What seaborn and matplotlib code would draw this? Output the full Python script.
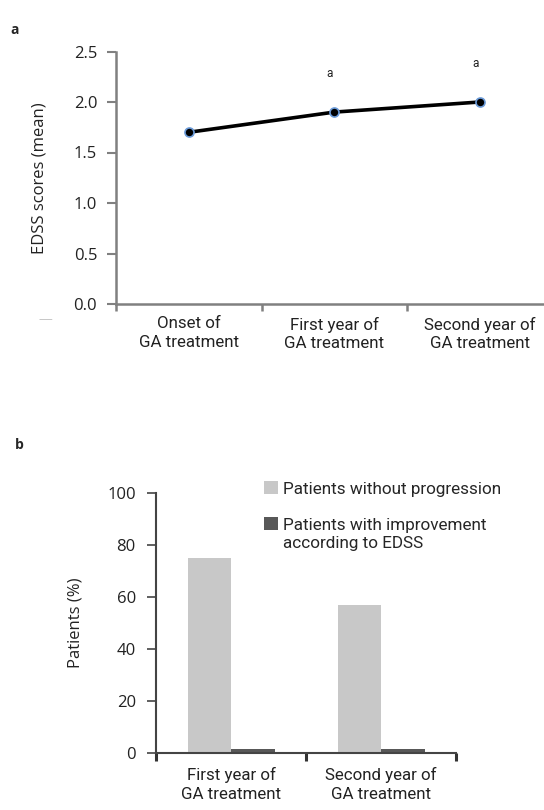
import matplotlib
matplotlib.use('Agg')
import matplotlib.pyplot as plt
import seaborn as sns
import pandas as pd

# --- Data ---
TIMEPOINTS = ['Onset of\nGA treatment', 'First year of\nGA treatment', 'Second year of\nGA treatment']
EDSS_MEAN = [1.7, 1.9, 2.0]
SIGNIF = ['', 'a', 'a']

YEARS = ['First year of\nGA treatment', 'Second year of\nGA treatment']
SERIES = ['Patients without progression', 'Patients with improvement\naccording to EDSS']
NO_PROGRESSION = [75, 57]
IMPROVEMENT = [1.5, 1.5]

COLORS = ['#c8c8c8', '#585858']
TXT = '#222222'
COND = ['Roboto', 'DejaVu Sans']
W, H = 544, 810

sns.set_theme(style='white')
plt.rcParams['font.family'] = ['Open Sans', 'DejaVu Sans']

fig = plt.figure(figsize=(W / 100, H / 100), dpi=100)

# --- Panel a: line plot ---
ax1 = fig.add_axes([116 / W, 1 - 304 / H, 436.5 / W, 252.5 / H])
df_a = pd.DataFrame({'Time': TIMEPOINTS, 'EDSS': EDSS_MEAN})
sns.lineplot(data=df_a, x='Time', y='EDSS', ax=ax1, color='black', linewidth=2.6,
             marker='o', markersize=6.5, markerfacecolor='black',
             markeredgecolor='#6a9ad8', markeredgewidth=1.2, sort=False)
for i, (v, s) in enumerate(zip(EDSS_MEAN, SIGNIF)):
    if s:
        ax1.text(i - 0.03, v + 0.38, s, ha='center', va='center', fontsize=8.5, color=TXT,
                 family=COND)
ax1.set_xlim(-0.5, 2.5)
ax1.set_ylim(0, 2.5)
ax1.set_yticks([0, 0.5, 1.0, 1.5, 2.0, 2.5])
ax1.set_yticklabels(['0.0', '0.5', '1.0', '1.5', '2.0', '2.5'])
ax1.set_xticks([-0.5, 0.5, 1.5])
ax1.set_xticklabels([])
ax1.set_xticks(range(len(TIMEPOINTS)), minor=True)
ax1.set_xticklabels(TIMEPOINTS, minor=True, fontsize=12.2, color=TXT, family=COND,
                    linespacing=1.3)
ax1.tick_params(axis='x', which='minor', bottom=False, length=0, pad=9)
ax1.tick_params(axis='x', which='major', bottom=True, length=5, width=1.8, color='#808080',
                direction='out')
ax1.tick_params(axis='y', left=True, length=6.5, width=1.5, color='#808080', direction='out',
                labelsize=12, labelcolor=TXT, pad=7)
ax1.set_xlabel('')
ax1.set_ylabel('EDSS scores (mean)', fontsize=12, color=TXT)
ax1.yaxis.set_label_coords((48 - 116) / 436.5, 0.5)
for side in ['top', 'right']:
    ax1.spines[side].set_visible(False)
for side in ['left', 'bottom']:
    ax1.spines[side].set_color('#808080')
    ax1.spines[side].set_linewidth(1.8)
fig.text(10 / W, 1 - 30 / H, 'a', fontsize=10, fontweight='bold', va='center')
fig.text(45 / W, 1 - 320 / H, '—', fontsize=10, color='#c8c8c8', ha='center', va='center')

# --- Panel b: grouped bars ---
ax2 = fig.add_axes([156 / W, 1 - 753 / H, 300 / W, 260 / H])
df_b = pd.DataFrame({
    'Year': YEARS * 2,
    'Series': [SERIES[0]] * len(YEARS) + [SERIES[1]] * len(YEARS),
    'Percent': NO_PROGRESSION + IMPROVEMENT,
})
sns.barplot(data=df_b, x='Year', y='Percent', hue='Series', palette=COLORS,
            width=0.58, gap=0, ax=ax2, legend=False, saturation=1, linewidth=0)
ax2.set_xlim(-0.5, 1.5)
ax2.set_ylim(0, 100)
ax2.set_yticks([0, 20, 40, 60, 80, 100])
ax2.set_xticks([-0.5, 0.5, 1.5])
ax2.set_xticklabels([])
ax2.set_xticks(range(len(YEARS)), minor=True)
ax2.set_xticklabels(YEARS, minor=True, fontsize=12.2, color=TXT, family=COND, linespacing=1.3)
ax2.tick_params(axis='x', which='minor', bottom=False, length=0, pad=10)
ax2.tick_params(axis='x', which='major', bottom=True, length=6, width=2.2, color='#333333',
                direction='out')
ax2.tick_params(axis='y', left=True, length=6.5, width=1.2, color='#444444', direction='out',
                labelsize=12, labelcolor=TXT, pad=8)
ax2.set_xlabel('')
ax2.set_ylabel('Patients (%)', fontsize=12, color=TXT)
ax2.yaxis.set_label_coords((84 - 156) / 300, 0.5)
for side in ['top', 'right']:
    ax2.spines[side].set_visible(False)
for side in ['left', 'bottom']:
    ax2.spines[side].set_color('#444444')
    ax2.spines[side].set_linewidth(1.5)

# legend: handle aligned with the first text line, so two separate legends
handles = [plt.Rectangle((0, 0), 1, 1, facecolor=c, edgecolor='none') for c in COLORS]
first, second = SERIES[1].split('\n')
leg_kw = dict(loc='upper left', frameon=False, handlelength=0.8, handleheight=0.8,
              handletextpad=0.3, borderaxespad=0, borderpad=0,
              prop={'family': COND, 'size': 12.3})
leg1 = ax2.legend([handles[0]], [SERIES[0]], bbox_to_anchor=(0.36, 1.045), **leg_kw)
ax2.add_artist(leg1)
blank = plt.Rectangle((0, 0), 1, 1, facecolor='none', edgecolor='none')
ax2.legend([handles[1], blank], [first, second], bbox_to_anchor=(0.36, 0.907),
           labelspacing=0.15, **leg_kw)
fig.text(15 / W, 1 - 445 / H, 'b', fontsize=10, fontweight='bold', va='center')

fig.savefig('out.png', dpi=100)
